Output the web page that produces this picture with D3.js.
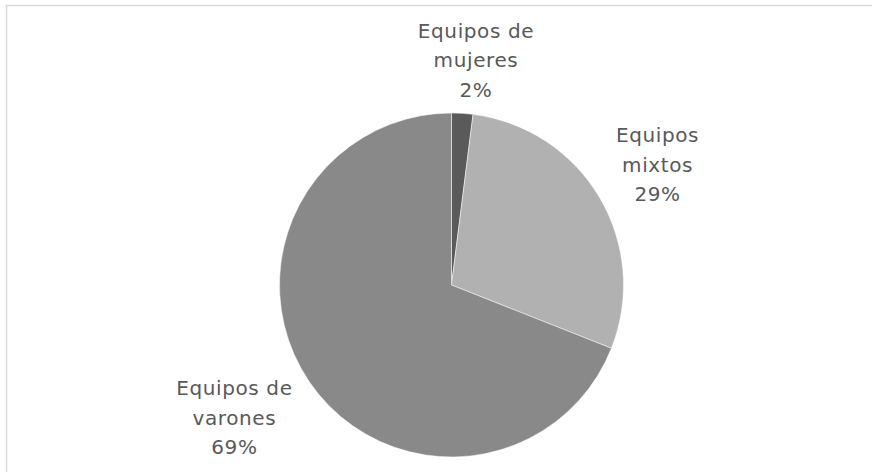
<!DOCTYPE html>
<html>
<head>
<meta charset="utf-8">
<script src="https://cdn.jsdelivr.net/npm/d3@7"></script>
<style>
  body { margin: 0; background: #fff; }
  text { font-family: "DejaVu Sans", sans-serif; }
</style>
</head>
<body>
<svg id="chart" width="872" height="472"></svg>
<script>
var names = [["Equipos de", "mujeres"], ["Equipos", "mixtos"], ["Equipos de", "varones"]]
var shares = [2, 29, 69]
var colours = ["#5a5a5a", "#b1b1b1", "#898989"]

// label placement: distance from centre and extra turn (degrees), layout only
var labelDist = [223, 237, 256]
var labelTurn = [2.7, 1.0, 2.2]

var svg = d3.select("#chart")
var cx = 451.5, cy = 285, r = 172

// frame, clipped on the right and bottom like the original
svg.append("rect")
    .attr("x", 6.5).attr("y", 5.5)
    .attr("width", 900).attr("height", 500)
    .attr("fill", "none").attr("stroke", "#d9d9d9").attr("stroke-width", 1.5)

var pie = d3.pie().sort(null).value(function(d){ return d })
var arcs = pie(shares)
var arc = d3.arc().innerRadius(0).outerRadius(r)

var g = svg.append("g").attr("transform", "translate(" + cx + "," + cy + ")")

g.selectAll("path")
    .data(arcs)
    .enter().append("path")
    .attr("d", arc)
    .attr("fill", function(d, i){ return colours[i] })
    .attr("stroke", "#fff")
    .attr("stroke-width", 0.5)

var lineH = 29.5
var labels = g.selectAll("text.lab")
    .data(arcs)
    .enter().append("text")
    .attr("class", "lab")
    .attr("text-anchor", "middle")
    .attr("font-size", 20)
    .attr("letter-spacing", 0.6)
    .attr("fill", "#595959")
    .attr("transform", function(d, i)
    {
        var a = (d.startAngle + d.endAngle) / 2 + labelTurn[i] * Math.PI / 180
        var x = Math.sin(a) * labelDist[i]
        var y = -Math.cos(a) * labelDist[i]
        return "translate(" + x + "," + y + ")"
    })

labels.each(function(d, i)
{
    var t = d3.select(this)
    var rows = names[i].concat([shares[i] + "%"])
    rows.forEach(function(s, k)
    {
        t.append("tspan")
            .attr("x", 0)
            .attr("y", (k - 1) * lineH + 4)
            .text(s)
    })
})
</script>
</body>
</html>
